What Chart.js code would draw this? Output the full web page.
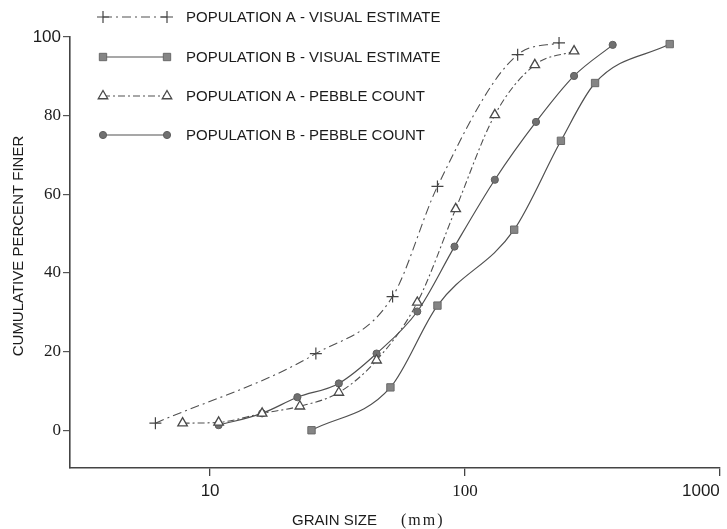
<!DOCTYPE html>
<html>
<head>
<meta charset="utf-8">
<script src="https://cdn.jsdelivr.net/npm/chart.js@4/dist/chart.umd.min.js"></script>
<style>
  html, body { margin: 0; padding: 0; background: #ffffff; }
  #wrap { width: 727px; height: 529px; position: relative; }
</style>
</head>
<body>
<div id="wrap"><canvas id="grain" width="727" height="529"></canvas></div>
<script>
// Grain size (mm) and cumulative percent finer for each sample
const sizeAVisual = [6.1, 26, 52, 78, 161, 234];
const pctAVisual  = [1.8, 19.5, 34, 62, 95.5, 98.5];

const sizeBVisual = [25, 51, 78, 156, 238, 324, 636];
const pctBVisual  = [0, 10.9, 31.7, 51, 73.6, 88.3, 98.2];

const sizeAPebble = [7.8, 10.8, 16, 22.5, 32, 45, 65, 92, 131, 188, 268];
const pctAPebble  = [1.8, 2, 4.3, 6.1, 9.6, 17.8, 32.5, 56.3, 80.2, 92.9, 96.4];

const sizeBPebble = [10.8, 16, 22, 32, 45, 65, 91, 131, 190, 268, 380];
const pctBPebble  = [1.3, 4.3, 8.4, 11.9, 19.5, 30.2, 46.7, 63.7, 78.4, 90.1, 98];

const seriesLabels = [
  'POPULATION A - VISUAL ESTIMATE',
  'POPULATION B - VISUAL ESTIMATE',
  'POPULATION A - PEBBLE COUNT',
  'POPULATION B - PEBBLE COUNT'
];

const xTickValues = [10, 100, 1000];
const yTickValues = [0, 20, 40, 60, 80, 100];

const xAxisTitle = 'GRAIN SIZE';
const xAxisUnit = '(mm)';
const yAxisTitle = 'CUMULATIVE PERCENT FINER';

const SANS = '"Liberation Sans", Arial, sans-serif';
const SERIF = '"Liberation Serif", "Times New Roman", serif';
const INK = '#1c1c1c';

function points(xs, ys) {
  return xs.map((x, i) => ({ x: x, y: ys[i] }));
}

const dashDotLong = [9, 4, 2, 4];
const dashDotShort = [7, 3, 2, 3];

const datasets = [
  {
    label: seriesLabels[0],
    data: points(sizeAVisual, pctAVisual),
    borderColor: '#505050',
    borderWidth: 1.1,
    borderDash: dashDotLong,
    pointStyle: 'cross',
    pointRadius: 6,
    pointBorderWidth: 1.2,
    pointBorderColor: '#444444',
    pointBackgroundColor: '#444444'
  },
  {
    label: seriesLabels[1],
    data: points(sizeBVisual, pctBVisual),
    borderColor: '#505050',
    borderWidth: 1.2,
    borderDash: [],
    pointStyle: 'rect',
    pointRadius: 5.2,
    pointBorderWidth: 1,
    pointBorderColor: '#6a6a6a',
    pointBackgroundColor: '#858585'
  },
  {
    label: seriesLabels[2],
    data: points(sizeAPebble, pctAPebble),
    borderColor: '#505050',
    borderWidth: 1.1,
    borderDash: dashDotShort,
    pointStyle: 'triangle',
    pointRadius: 5.5,
    pointBorderWidth: 1.3,
    pointBorderColor: '#4a4a4a',
    pointBackgroundColor: '#ffffff'
  },
  {
    label: seriesLabels[3],
    data: points(sizeBPebble, pctBPebble),
    borderColor: '#505050',
    borderWidth: 1.2,
    borderDash: [],
    pointStyle: 'circle',
    pointRadius: 3.6,
    pointBorderWidth: 1,
    pointBorderColor: '#5e5e5e',
    pointBackgroundColor: '#707070'
  }
];

// Marker shapes used in the key
function drawMarker(ctx, style, x, y, r, ds) {
  ctx.save();
  ctx.setLineDash([]);
  ctx.lineWidth = ds.pointBorderWidth;
  ctx.strokeStyle = ds.pointBorderColor;
  ctx.fillStyle = ds.pointBackgroundColor;
  ctx.beginPath();
  if (style === 'cross') {
    ctx.moveTo(x - r, y); ctx.lineTo(x + r, y);
    ctx.moveTo(x, y - r); ctx.lineTo(x, y + r);
    ctx.stroke();
  } else if (style === 'rect') {
    const s = r * Math.SQRT1_2;
    ctx.rect(x - s, y - s, 2 * s, 2 * s);
    ctx.fill(); ctx.stroke();
  } else if (style === 'triangle') {
    const w = r * Math.sqrt(3) / 2;
    ctx.moveTo(x, y - r);
    ctx.lineTo(x + w, y + r / 2);
    ctx.lineTo(x - w, y + r / 2);
    ctx.closePath();
    ctx.fill(); ctx.stroke();
  } else {
    ctx.arc(x, y, r, 0, Math.PI * 2);
    ctx.fill(); ctx.stroke();
  }
  ctx.restore();
}

// Key at the top left and the two axis titles
const figureText = {
  id: 'figureText',
  afterDraw(chart) {
    const ctx = chart.ctx;
    const rowY = [17, 57, 96, 135];
    const x0 = 103, x1 = 167, textX = 186;
    ctx.save();
    chart.data.datasets.forEach((ds, i) => {
      const y = rowY[i];
      ctx.save();
      ctx.strokeStyle = ds.borderColor;
      ctx.lineWidth = ds.borderWidth;
      ctx.setLineDash(ds.borderDash || []);
      ctx.beginPath();
      ctx.moveTo(x0, y);
      ctx.lineTo(x1, y);
      ctx.stroke();
      ctx.restore();
      drawMarker(ctx, ds.pointStyle, x0, y, ds.pointRadius, ds);
      drawMarker(ctx, ds.pointStyle, x1, y, ds.pointRadius, ds);
      ctx.fillStyle = INK;
      ctx.font = '15px ' + SANS;
      ctx.textAlign = 'left';
      ctx.textBaseline = 'middle';
      ctx.fillText(ds.label, textX, y + 1);
    });

    // vertical axis title
    ctx.save();
    ctx.translate(19, 246);
    ctx.rotate(-Math.PI / 2);
    ctx.fillStyle = INK;
    ctx.font = '15px ' + SANS;
    ctx.textAlign = 'center';
    ctx.textBaseline = 'middle';
    ctx.fillText(yAxisTitle, 0, 0);
    ctx.restore();

    // horizontal axis title
    ctx.fillStyle = INK;
    ctx.textAlign = 'left';
    ctx.textBaseline = 'middle';
    ctx.font = '15px ' + SANS;
    ctx.fillText(xAxisTitle, 292, 521);
    ctx.font = '16px ' + SERIF;
    if ('letterSpacing' in ctx) ctx.letterSpacing = '2px';
    ctx.fillText(xAxisUnit, 401, 521);
    ctx.restore();
  }
};

new Chart(document.getElementById('grain'), {
  type: 'line',
  data: { datasets: datasets },
  plugins: [figureText],
  options: {
    responsive: false,
    animation: false,
    devicePixelRatio: 1,
    layout: { padding: { top: 37, right: 4, left: 0, bottom: 0 } },
    elements: {
      line: { cubicInterpolationMode: 'monotone', fill: false },
      point: { hoverRadius: 0 }
    },
    plugins: {
      legend: { display: false },
      tooltip: { enabled: false }
    },
    scales: {
      x: {
        type: 'logarithmic',
        min: 2.82,
        max: 1000,
        afterFit: (s) => { s.height = 61; },
        afterBuildTicks: (s) => {
          s.ticks = [s.min].concat(xTickValues).map(v => ({ value: v }));
        },
        ticks: {
          align: 'inner',
          autoSkip: false,
          maxRotation: 0,
          padding: 5,
          color: INK,
          callback: (v) => (xTickValues.includes(v) ? String(v) : ''),
          font: (c) => (c.tick && c.tick.value === 100)
            ? { family: SERIF, size: 17 }
            : { family: SANS, size: 17 }
        },
        grid: {
          drawOnChartArea: false,
          drawTicks: true,
          tickLength: 8,
          lineWidth: 1.3,
          color: (c) => (c.tick && xTickValues.includes(c.tick.value)) ? '#444444' : 'rgba(0,0,0,0)'
        },
        border: { display: true, color: '#444444', width: 1.6 }
      },
      y: {
        min: -9.6,
        max: 100,
        afterFit: (s) => { s.width = 70; },
        afterBuildTicks: (s) => {
          s.ticks = yTickValues.map(v => ({ value: v }));
        },
        ticks: {
          padding: 2,
          color: INK,
          callback: (v) => String(v),
          font: (c) => (c.tick && c.tick.value === 100)
            ? { family: SANS, size: 17 }
            : { family: SERIF, size: 17 }
        },
        grid: {
          drawOnChartArea: false,
          drawTicks: true,
          tickLength: 7,
          lineWidth: 1.2,
          color: '#555555'
        },
        border: { display: true, color: '#444444', width: 1.6 }
      }
    }
  }
});
</script>
</body>
</html>
